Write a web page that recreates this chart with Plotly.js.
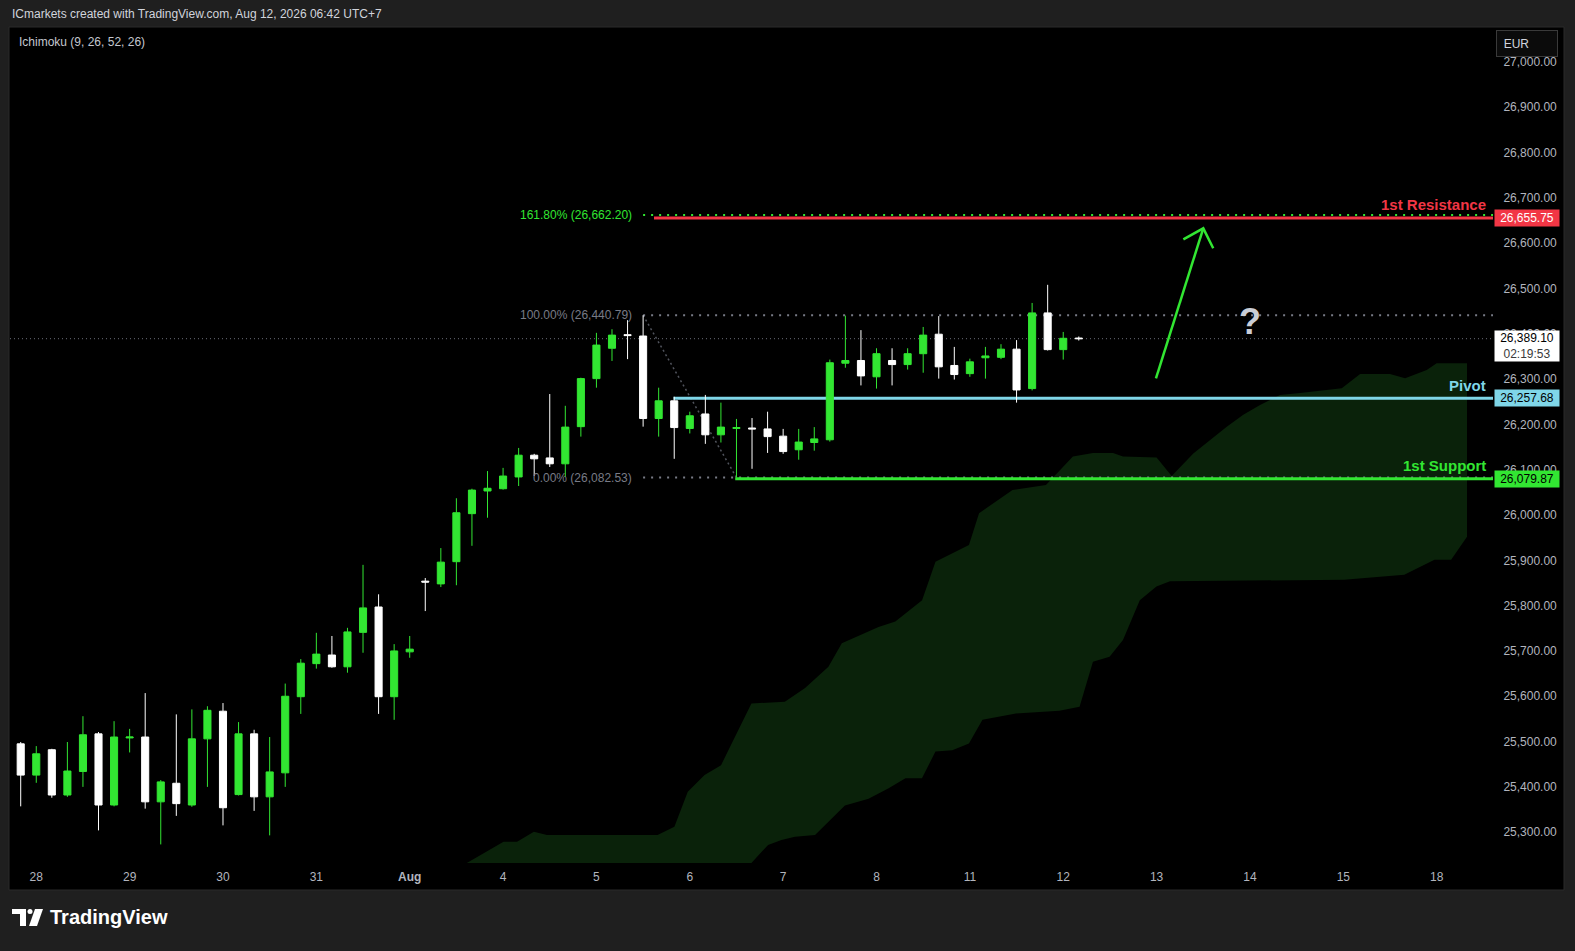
<!DOCTYPE html>
<html>
<head>
<meta charset="utf-8">
<script src="https://cdn.plot.ly/plotly-3.0.1.min.js"></script>
<style>
html,body{margin:0;padding:0;background:#1f1f1f;}
#chart{width:1575px;height:951px;}
</style>
</head>
<body>
<div id="chart"></div>
<script>
// ---------------- DATA ----------------
// 4h candles, 6 per trading day (index 0 = last candle of 25 Jul)
const candleOpen  = [25495,25426,25482,25382,25434,25517,25360,25508,25510,25367,25408,25360,25506,25567,25383,25517,25378,25431,25599,25672,25691,25665,25741,25797,25599,25698,25854,25848,25897,26003,26053,26058,26084,26132,26126,26113,26195,26301,26368,26398,26395,26213,26252,26191,26223,26177,26191,26192,26190,26174,26144,26160,26166,26335,26341,26305,26341,26332,26356,26399,26330,26312,26347,26348,26366,26279,26446,26365,26390.5];
const candleHigh  = [25499,25490,25484,25499,25556,25521,25545,25528,25607,25415,25560,25571,25578,25585,25543,25526,25510,25628,25682,25740,25733,25751,25890,25825,25715,25733,25861,25927,26037,26058,26097,26104,26148,26135,26267,26241,26303,26402,26410,26430,26440.79,26281,26261,26228,26265,26248,26212,26214,26228,26190,26190,26194,26343,26440,26408,26368,26368,26368,26415,26439,26371,26345,26371,26377,26386,26468,26508,26404,26394];
const candleLow   = [25357,25409,25376,25378,25400,25304,25357,25476,25352,25273,25336,25356,25400,25315,25381,25347,25293,25400,25561,25661,25663,25652,25696,25561,25548,25685,25788,25841,25845,25932,25994,26056,26064,26086,26106,26084,26173,26281,26340,26344,26195,26173,26124,26180,26157,26160,26082.53,26102,26137,26135,26122,26142,26162,26325,26286,26279,26286,26321,26314,26301,26299,26305,26301,26344,26248,26275,26363,26343,26385];
const candleClose = [25426,25473,25382,25435,25515,25360,25510,25510,25367,25411,25363,25506,25569,25354,25517,25378,25433,25600,25673,25693,25665,25742,25795,25599,25700,25704,25852,25896,26005,26055,26059,26086,26132,26124,26113,26194,26301,26375,26397,26396,26213,26252,26193,26219,26177,26194,26193,26190,26173,26140,26161,26168,26336,26341,26307,26356,26332,26356,26397,26327,26310,26338,26351,26366,26276,26446,26365,26390,26389.10];

const dayTickLabels = ['28','29','30','31','<b>Aug</b>','4','5','6','7','8','11','12','13','14','15','18'];
const dayTickIndex  = [1,7,13,19,25,31,37,43,49,55,61,67,73,79,85,91];
const priceTicks    = [25300,25400,25500,25600,25700,25800,25900,26000,26100,26200,26300,26400,26500,26600,26700,26800,26900,27000];

// Ichimoku cloud outline (candle index, price)
const cloudUpperIdx   = [27.59,28.67,31.03,31.9,32.98,33.82,40.93,42.01,42.87,43.95,45.01,46.96,49.11,50.41,51.91,52.77,55.13,56.21,57.93,58.79,60.94,61.59,63.74,65.89,67.62,68.91,70.2,70.84,73.0,73.97,75.36,77.51,78.57,79.65,80.93,82.22,84.9,86.08,88.0,88.97,90.36,91.0,92.95];
const cloudUpperPrice = [25205,25232,25279,25279,25301,25294,25294,25312,25389,25426,25448,25584,25588,25618,25665,25717,25753,25765,25812,25897,25934,26004,26055,26066,26129,26137,26137,26129,26127,26086,26136,26195,26221,26243,26265,26269,26280,26311,26311,26302,26320,26335,26335];
const cloudLowerIdx   = [46.23,46.96,48.03,48.89,49.76,51.05,52.97,54.49,55.78,56.86,57.92,58.79,59.87,60.94,61.81,63.96,66.75,68.05,68.91,69.98,70.84,71.92,72.99,73.86,85.04,88.92,90.86,91.93,92.95];
const cloudLowerPrice = [25205,25232,25272,25283,25290,25294,25359,25374,25397,25419,25419,25478,25481,25496,25548,25562,25568,25577,25676,25687,25724,25812,25842,25854,25857,25868,25901,25901,25952];

// Horizontal levels
const levelNames    = ['1st Resistance','Pivot','1st Support'];
const levelValues   = [26655.75, 26257.68, 26079.87];
const levelStartIdx = [40.7, 41.95, 45.92];

// Fibonacci extension
const fibLabels   = ['161.80%','100.00%','0.00%'];
const fibValues   = [26662.20, 26440.79, 26082.53];
const fibStartIdx = 40;
const fibSwingIdx = [40, 46];

// Current price
const lastPrice = 26389.10;
const countdown = '02:19:53';

// Drawing: projection arrow and question mark (candle index, price)
const arrowTail  = [72.96, 26301.7];
const arrowTip   = [76.0, 26632.7];
const arrowWingL = [74.72, 26608.5];
const arrowWingR = [76.64, 26588.6];
const questionAt = [78.99, 26426.6];

// ---------------- STYLE / LAYOUT ----------------
const GREEN = '#32e632', RED = '#f23645', CYAN = '#7fd6e8', GRAY = '#787b86', AXIS = '#b2b5be';
const levelColors = [RED, CYAN, GREEN];
const levelTagText = ['#ffffff', '#000000', '#000000'];
const fibColors = [GREEN, GRAY, GRAY];
const FONT = 'Liberation Sans, Arial, sans-serif';

const W = 1575, H = 951, ML = 10, MR = 82, MT = 27, MB = 88;
const plotW = W - ML - MR, plotH = H - MT - MB;
const px = x => (x - ML) / plotW;
const py = y => (H - MB - y) / plotH;
const xRange = [-0.688, 94.62];
const yRange = [25232, 27077];
const fmt = v => v.toLocaleString('en-US', {minimumFractionDigits: 2, maximumFractionDigits: 2});

const idx = candleOpen.map((_, i) => i);

const candles = {
  type: 'candlestick', x: idx,
  open: candleOpen, high: candleHigh, low: candleLow, close: candleClose,
  increasing: {line: {color: GREEN, width: 1}, fillcolor: GREEN},
  decreasing: {line: {color: '#ffffff', width: 1}, fillcolor: '#ffffff'},
  whiskerwidth: 0, hoverinfo: 'skip', showlegend: false
};

// cloud path
let cloudPath = 'M ' + cloudUpperIdx.map((x, i) => x + ',' + cloudUpperPrice[i]).join(' L ');
for (let i = cloudLowerIdx.length - 1; i >= 0; i--) cloudPath += ' L ' + cloudLowerIdx[i] + ',' + cloudLowerPrice[i];
cloudPath += ' Z';

const shapes = [];
// black chart panel
shapes.push({type: 'rect', xref: 'paper', yref: 'paper', x0: px(9), x1: px(1564), y0: py(890), y1: py(27),
  fillcolor: '#000000', line: {color: '#2b2b2b', width: 1}, layer: 'below'});
// cloud
shapes.push({type: 'path', xref: 'x', yref: 'y', path: cloudPath, fillcolor: '#0a220a', line: {width: 0}, layer: 'below'});
// current price line
shapes.push({type: 'line', xref: 'x', yref: 'y', x0: xRange[0], x1: xRange[1], y0: lastPrice, y1: lastPrice,
  line: {color: '#6a6d78', width: 1, dash: '1px,3px'}, layer: 'below'});
// fib swing diagonal
shapes.push({type: 'line', xref: 'x', yref: 'y', x0: fibSwingIdx[0], x1: fibSwingIdx[1], y0: fibValues[1], y1: fibValues[2],
  line: {color: '#50535c', width: 1.5, dash: '2px,3px'}, layer: 'below'});
// fib levels
fibValues.forEach((v, i) => {
  shapes.push({type: 'line', xref: 'x', yref: 'y', x0: fibStartIdx, x1: xRange[1], y0: v, y1: v,
    line: {color: fibColors[i], width: 2, dash: '2px,6px'}, layer: 'below'});
});
// S/R levels
levelValues.forEach((v, i) => {
  shapes.push({type: 'line', xref: 'x', yref: 'y', x0: levelStartIdx[i], x1: xRange[1], y0: v, y1: v,
    line: {color: levelColors[i], width: 3}, layer: 'below'});
});
// arrow
shapes.push({type: 'line', xref: 'x', yref: 'y', x0: arrowTail[0], y0: arrowTail[1], x1: arrowTip[0], y1: arrowTip[1],
  line: {color: GREEN, width: 2.5}, layer: 'above'});
shapes.push({type: 'path', xref: 'x', yref: 'y',
  path: `M ${arrowWingL[0]},${arrowWingL[1]} L ${arrowTip[0]},${arrowTip[1]} L ${arrowWingR[0]},${arrowWingR[1]}`,
  line: {color: GREEN, width: 2.5}, layer: 'above'});
// TradingView logo glyph
shapes.push({type: 'path', xref: 'paper', yref: 'paper',
  path: `M ${px(12)},${py(909)} L ${px(26)},${py(909)} L ${px(26)},${py(926)} L ${px(20)},${py(926)} L ${px(20)},${py(914)} L ${px(12)},${py(914)} Z`,
  fillcolor: '#ffffff', line: {width: 0}});
shapes.push({type: 'circle', xref: 'paper', yref: 'paper', x0: px(27.5), x1: px(32.5), y0: py(914), y1: py(909),
  fillcolor: '#ffffff', line: {width: 0}});
shapes.push({type: 'path', xref: 'paper', yref: 'paper',
  path: `M ${px(35)},${py(909)} L ${px(43)},${py(909)} L ${px(37)},${py(926)} L ${px(29)},${py(926)} Z`,
  fillcolor: '#ffffff', line: {width: 0}});

const annotations = [];
annotations.push({xref: 'paper', yref: 'paper', x: px(10), y: py(14), xanchor: 'left', yanchor: 'middle',
  text: 'ICmarkets created with TradingView.com, Aug 12, 2026 06:42 UTC+7', showarrow: false,
  font: {family: FONT, size: 12, color: '#d1d4dc'}});
annotations.push({xref: 'paper', yref: 'paper', x: px(17), y: py(42), xanchor: 'left', yanchor: 'middle',
  text: 'Ichimoku (9, 26, 52, 26)', showarrow: false, font: {family: FONT, size: 12, color: '#c4c7ce'}});
annotations.push({xref: 'paper', yref: 'paper', x: px(48), y: py(917), xanchor: 'left', yanchor: 'middle',
  text: '<b>TradingView</b>', showarrow: false, font: {family: FONT, size: 20, color: '#ffffff'}});
// EUR button
annotations.push({xref: 'paper', yref: 'paper', x: 1, y: py(43.5), xanchor: 'left', yanchor: 'middle', xshift: 3,
  text: '\u00a0\u00a0EUR', showarrow: false, width: 60, height: 25, align: 'left', borderpad: 0,
  bgcolor: '#0b0b0b', bordercolor: '#3a3a3a', borderwidth: 1,
  font: {family: FONT, size: 12, color: '#d1d4dc'}});
// fib labels
fibValues.forEach((v, i) => {
  annotations.push({xref: 'x', yref: 'y', x: fibStartIdx, y: v, xanchor: 'right', yanchor: 'middle', xshift: -9,
    text: fibLabels[i] + ' (' + fmt(v) + ')', showarrow: false,
    font: {family: FONT, size: 12, color: fibColors[i]}});
});
// level labels + axis tags
levelValues.forEach((v, i) => {
  annotations.push({xref: 'x', yref: 'y', x: 94.3, y: v, xanchor: 'right', yanchor: 'middle', yshift: 13,
    text: '<b>' + levelNames[i] + '</b>', showarrow: false,
    font: {family: FONT, size: 15, color: levelColors[i]}});
  annotations.push({xref: 'paper', yref: 'y', x: 1, y: v, xanchor: 'left', yanchor: 'middle', xshift: 1,
    text: fmt(v), showarrow: false, width: 64, height: 16, borderpad: 0, align: 'center',
    bgcolor: levelColors[i], font: {family: FONT, size: 12, color: levelTagText[i]}});
});
// current price tag
annotations.push({xref: 'paper', yref: 'y', x: 1, y: lastPrice, xanchor: 'left', yanchor: 'middle', xshift: 1, yshift: -7,
  text: fmt(lastPrice) + '<br><span style="color:#3a3a3a">' + countdown + '</span>', showarrow: false,
  width: 64, height: 30, borderpad: 0, align: 'center', bgcolor: '#ffffff',
  font: {family: FONT, size: 12, color: '#000000'}});
// question mark
annotations.push({xref: 'x', yref: 'y', x: questionAt[0], y: questionAt[1], xanchor: 'center', yanchor: 'middle',
  text: '<b>?</b>', showarrow: false, font: {family: FONT, size: 36, color: '#c9cdd6'}});

const layout = {
  width: W, height: H,
  margin: {l: ML, r: MR, t: MT, b: MB, pad: 0},
  paper_bgcolor: '#1f1f1f', plot_bgcolor: '#000000',
  showlegend: false, hovermode: false, dragmode: false,
  boxgap: 0.35,
  xaxis: {
    type: 'linear', range: xRange, fixedrange: true,
    showgrid: false, zeroline: false, showline: false,
    tickmode: 'array', tickvals: dayTickIndex, ticktext: dayTickLabels,
    ticks: 'outside', ticklen: 3, tickcolor: 'rgba(0,0,0,0)',
    tickfont: {family: FONT, size: 12, color: AXIS},
    rangeslider: {visible: false}
  },
  yaxis: {
    side: 'right', range: yRange, fixedrange: true,
    showgrid: false, zeroline: false, showline: false,
    tickmode: 'array', tickvals: priceTicks, tickformat: ',.2f',
    ticks: 'outside', ticklen: 7, tickcolor: 'rgba(0,0,0,0)',
    tickfont: {family: FONT, size: 12, color: AXIS}
  },
  shapes: shapes,
  annotations: annotations
};

Plotly.newPlot('chart', [candles], layout, {displayModeBar: false, staticPlot: true});
</script>
</body>
</html>
